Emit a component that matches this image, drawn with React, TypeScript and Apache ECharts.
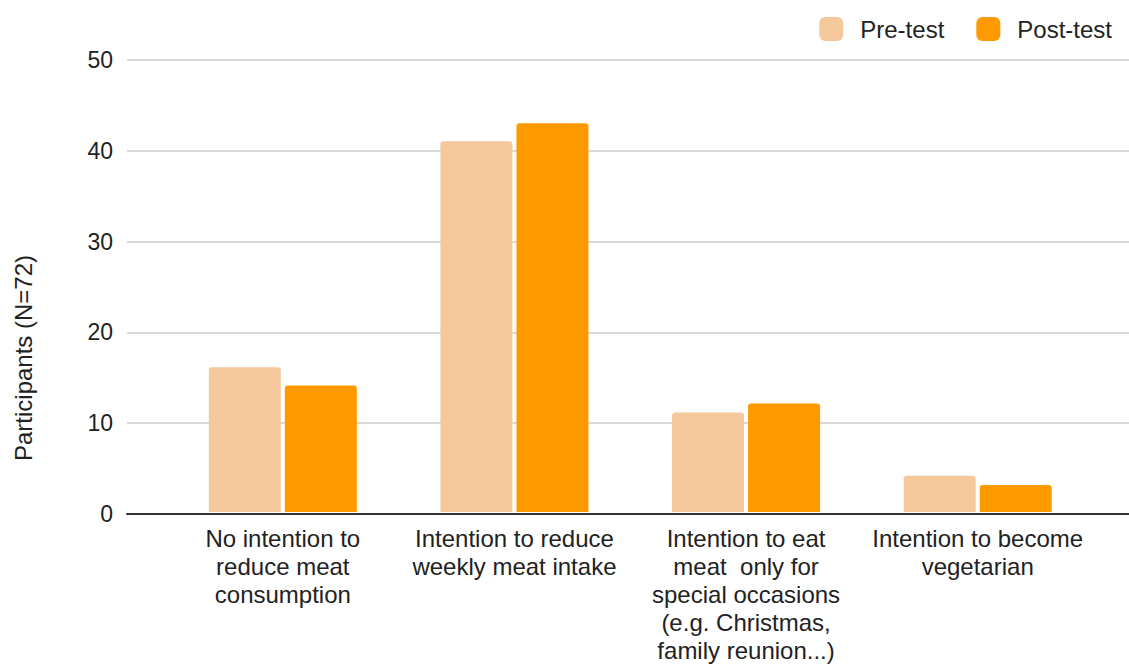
import React, { useEffect, useRef } from "react";
import * as echarts from "echarts";

const categories = [
  "No intention to\nreduce meat\nconsumption",
  "Intention to reduce\nweekly meat intake",
  "Intention to eat\nmeat  only for\nspecial occasions\n(e.g. Christmas,\nfamily reunion...)",
  "Intention to become\nvegetarian",
];
const preTest = [16, 41, 11, 4];
const postTest = [14, 43, 12, 3];
const seriesNames = ["Pre-test", "Post-test"];
const yAxisTitle = "Participants (N=72)";
const yMin = 0;
const yMax = 50;
const yInterval = 10;

const FONT = "'Liberation Sans', Arial, sans-serif";

export default function App() {
  const ref = useRef<HTMLDivElement>(null);
  useEffect(() => {
    if (!ref.current) return;
    const chart = echarts.init(ref.current, null, { renderer: "svg" });
    chart.setOption({
      animation: false,
      textStyle: { fontFamily: FONT },
      legend: {
        top: 12,
        right: 12,
        itemWidth: 24,
        itemHeight: 24,
        itemGap: 32,
        icon: "roundRect",
        data: seriesNames,
        textStyle: {
          fontFamily: FONT,
          fontSize: 24,
          color: "#222",
          padding: [0, 0, 0, 12],
        },
      },
      grid: [
        { left: 127, right: 0, top: 60, bottom: 150, containLabel: false },
        { left: 167, right: 35.5, top: 60, bottom: 150, containLabel: false },
      ],
      xAxis: [
        {
          type: "value",
          gridIndex: 0,
          min: 0,
          max: 1,
          axisLine: { show: true, onZero: true, lineStyle: { color: "#333", width: 2 } },
          axisTick: { show: false },
          axisLabel: { show: false },
          splitLine: { show: false },
        },
        {
          type: "category",
          gridIndex: 1,
          data: categories,
          axisLine: { show: false },
          axisTick: { show: false },
          axisLabel: {
            interval: 0,
            margin: 12,
            fontFamily: FONT,
            fontSize: 24,
            lineHeight: 28,
            color: "#222",
            align: "center",
          },
        },
      ],
      yAxis: [
        {
          type: "value",
          gridIndex: 0,
          min: yMin,
          max: yMax,
          interval: yInterval,
          axisLine: { show: false },
          axisTick: { show: false },
          axisLabel: { margin: 14, fontFamily: FONT, fontSize: 23, color: "#222" },
          splitLine: { show: true, lineStyle: { color: "#cccccc", width: 1.5 } },
        },
        {
          type: "value",
          gridIndex: 1,
          min: yMin,
          max: yMax,
          interval: yInterval,
          show: false,
          splitLine: { show: false },
        },
      ],
      series: [
        {
          name: seriesNames[0],
          type: "bar",
          xAxisIndex: 1,
          yAxisIndex: 1,
          data: preTest,
          barWidth: 72,
          barGap: "5.6%",
          itemStyle: { color: "#F5C89C", borderRadius: [3, 3, 0, 0] },
          z: 1,
        },
        {
          name: seriesNames[1],
          type: "bar",
          xAxisIndex: 1,
          yAxisIndex: 1,
          data: postTest,
          barWidth: 72,
          barGap: "5.6%",
          itemStyle: { color: "#FF9900", borderRadius: [3, 3, 0, 0] },
          z: 1,
        },
      ],
      graphic: [
        {
          type: "text",
          x: 23,
          y: 358,
          rotation: Math.PI / 2,
          style: {
            text: yAxisTitle,
            fontFamily: FONT,
            fontSize: 24,
            fill: "#222",
            align: "center",
            verticalAlign: "middle",
          },
        },
      ],
    });
    return () => chart.dispose();
  }, []);
  return (
    <div
      ref={ref}
      style={{ position: "fixed", left: 0, top: 0, width: 1129, height: 664, background: "#fff" }}
    />
  );
}
